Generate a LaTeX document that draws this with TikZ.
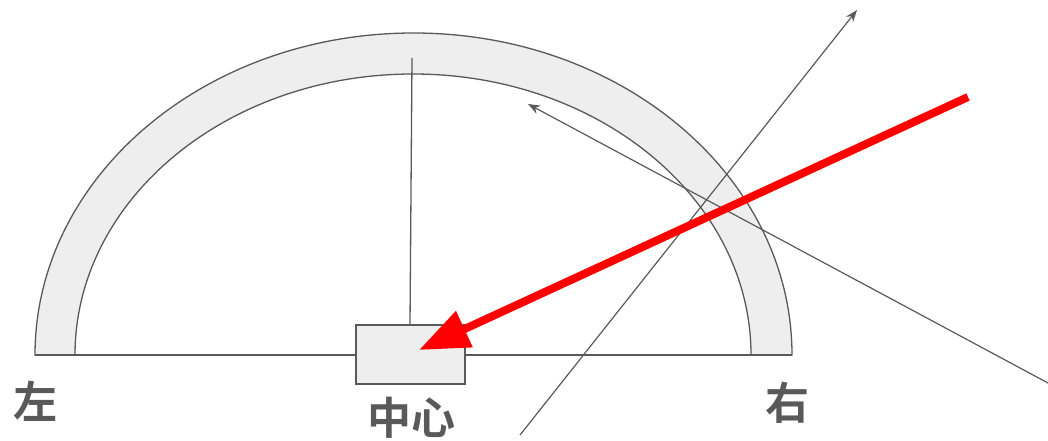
\documentclass[tikz,border=0pt]{standalone}
\usepackage{fontspec}
\newfontfamily\cjk{Noto Sans CJK SC Bold}
\usetikzlibrary{arrows.meta}
\definecolor{lineg}{HTML}{595959}
\definecolor{fillg}{HTML}{EEEEEE}
\begin{document}
\begin{tikzpicture}[x=1pt,y=1pt,
  edge/.style={draw=lineg,line width=1.3pt},
  thinarrow/.style={draw=lineg,line width=1.2pt,-{Stealth[length=12pt,width=9pt]}},
  redarrow/.style={draw=red,line width=8pt,-{Triangle[length=50pt,width=38pt]}},
  lbl/.style={text=lineg,font=\cjk\fontsize{44}{44}\selectfont,inner sep=0pt}]
\useasboundingbox (0,0) rectangle (1048,440);
% arch band
\path[edge,fill=fillg] (35,85) arc[start angle=180,end angle=0,x radius=378.5,y radius=322]
  -- (751,85) arc[start angle=0,end angle=180,x radius=338,y radius=281] -- cycle;
% centre box
\node[draw=lineg,line width=1.3pt,fill=fillg,minimum width=109pt,minimum height=59pt,inner sep=0pt] (box) at (410.5,85.5) {};
\coordinate (L) at (35,85);
\coordinate (R) at (792,85);
\coordinate (top) at (412,382);
\draw[edge] (L) -- (box.west |- L);
\draw[edge] (box.east |- R) -- (R);
\draw[edge] (box.north -| 410,0) -- (top);
% thin rays
\coordinate (a1s) at (520,5);
\coordinate (a1e) at (857,430);
\coordinate (a2s) at (1048,57);
\coordinate (a2e) at (528,336);
\draw[thinarrow] (a1s) -- (a1e);
\draw[thinarrow] (a2s) -- (a2e);
% red arrow
\coordinate (rs) at (968,343);
\coordinate (re) at (419,90);
\draw[redarrow] (rs) -- (re);
% labels
\node[lbl] (left) at (35,39) {左};
\node[lbl] (centre) at (411,22) {中心};
\node[lbl] (right) at (787,37) {右};
\end{tikzpicture}
\end{document}
